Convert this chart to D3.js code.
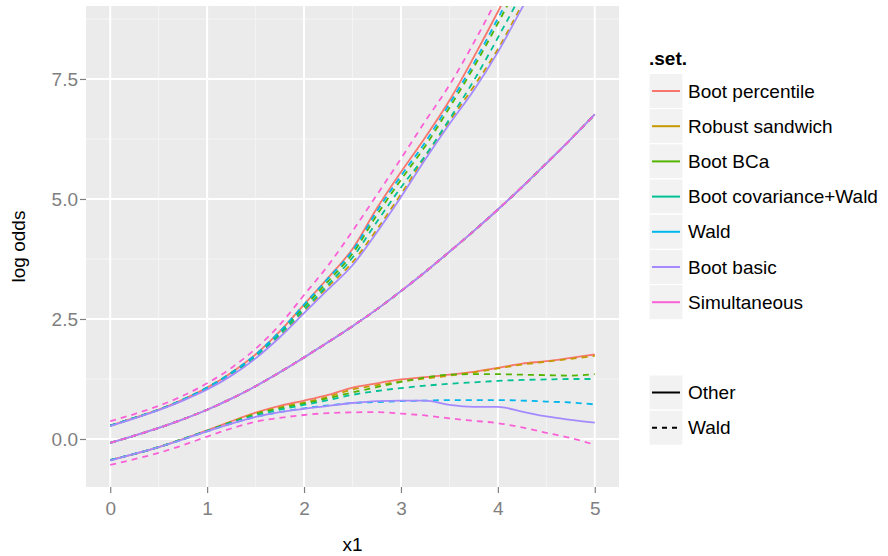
<!DOCTYPE html>
<html>
<head>
<meta charset="utf-8">
<script src="https://cdn.jsdelivr.net/npm/d3@7"></script>
<style>
  body { margin: 0; background: #fff; }
  svg { display: block; font-family: "Liberation Sans", Arial, Helvetica, sans-serif; }
</style>
</head>
<body>
<svg id="chart" width="888" height="556"></svg>
<script>
// x1 grid shared by every line
const xs = [0, 0.25, 0.5, 0.75, 1, 1.25, 1.5, 1.75, 2, 2.25, 2.5,
  2.75, 3, 3.25, 3.5, 3.75, 4, 4.25, 4.5, 4.75, 5];

const setNames = ['Boot percentile', 'Robust sandwich', 'Boot BCa',
  'Boot covariance+Wald', 'Wald', 'Boot basic', 'Simultaneous'];
const setTypes = ['Other', 'Wald', 'Wald', 'Wald', 'Wald', 'Other', 'Wald'];
const typeNames = ['Other', 'Wald'];

// point estimate (same for every set)
const fitValues = [-0.08, 0.07, 0.23, 0.41, 0.61, 0.84, 1.10, 1.39, 1.70, 2.02, 2.35,
  2.70, 3.08, 3.48, 3.90, 4.33, 4.78, 5.25, 5.74, 6.24, 6.76];

// upper limits
const upperPercentile = [0.28, 0.44, 0.61, 0.82, 1.07, 1.38, 1.76, 2.24, 2.80, 3.36, 3.96,
  4.80, 5.56, 6.28, 7.05, 7.95, 8.90, 9.9, 10.9, 11.9, 13.0];
const upperSandwich = [0.28, 0.44, 0.61, 0.81, 1.05, 1.34, 1.70, 2.15, 2.66, 3.18, 3.68,
  4.36, 5.10, 5.88, 6.62, 7.34, 8.12, 9.05, 10.0, 11.0, 12.0];
const upperBCa = [0.28, 0.44, 0.61, 0.82, 1.07, 1.38, 1.74, 2.21, 2.75, 3.29, 3.86,
  4.66, 5.40, 6.10, 6.90, 7.74, 8.66, 9.62, 10.6, 11.6, 12.7];
const upperBootCov = [0.28, 0.44, 0.61, 0.81, 1.06, 1.36, 1.72, 2.18, 2.70, 3.22, 3.78,
  4.52, 5.24, 5.90, 6.66, 7.46, 8.36, 9.3, 10.3, 11.3, 12.3];
const upperWald = [0.28, 0.44, 0.61, 0.82, 1.07, 1.38, 1.76, 2.24, 2.80, 3.35, 3.92,
  4.74, 5.48, 6.18, 6.98, 7.82, 8.76, 9.72, 10.7, 11.7, 12.8];
const upperBasic = [0.27, 0.43, 0.60, 0.80, 1.03, 1.32, 1.68, 2.12, 2.62, 3.12, 3.62,
  4.30, 5.04, 5.82, 6.56, 7.26, 8.06, 8.98, 9.9, 10.9, 11.9];
const upperSimul = [0.37, 0.52, 0.69, 0.90, 1.16, 1.48, 1.88, 2.38, 3.00, 3.62, 4.33,
  5.08, 5.84, 6.62, 7.37, 8.25, 9.2, 10.2, 11.2, 12.3, 13.4];

// lower limits
const lowerPercentile = [-0.44, -0.31, -0.17, 0.00, 0.18, 0.37, 0.55, 0.69, 0.80, 0.92, 1.07,
  1.16, 1.24, 1.29, 1.34, 1.40, 1.48, 1.57, 1.62, 1.69, 1.76];
const lowerSandwich = [-0.44, -0.31, -0.17, 0.00, 0.17, 0.36, 0.53, 0.66, 0.76, 0.88, 1.03,
  1.12, 1.20, 1.26, 1.32, 1.39, 1.47, 1.55, 1.61, 1.67, 1.73];
const lowerBCa = [-0.44, -0.31, -0.17, 0.00, 0.17, 0.35, 0.52, 0.64, 0.74, 0.85, 0.97,
  1.08, 1.19, 1.28, 1.34, 1.35, 1.35, 1.34, 1.33, 1.32, 1.35];
const lowerBootCov = [-0.44, -0.31, -0.17, 0.00, 0.17, 0.34, 0.49, 0.61, 0.71, 0.81, 0.92,
  1.00, 1.06, 1.11, 1.15, 1.18, 1.21, 1.23, 1.24, 1.25, 1.25];
const lowerWald = [-0.44, -0.31, -0.17, -0.01, 0.16, 0.32, 0.46, 0.56, 0.64, 0.70, 0.75,
  0.77, 0.79, 0.80, 0.81, 0.81, 0.81, 0.80, 0.78, 0.76, 0.72];
const lowerBasic = [-0.45, -0.31, -0.17, -0.01, 0.16, 0.32, 0.46, 0.56, 0.63, 0.69, 0.75,
  0.79, 0.80, 0.80, 0.71, 0.67, 0.67, 0.57, 0.47, 0.40, 0.34];
const lowerSimul = [-0.54, -0.42, -0.29, -0.13, 0.05, 0.22, 0.36, 0.44, 0.50, 0.54, 0.555,
  0.56, 0.53, 0.49, 0.43, 0.38, 0.33, 0.24, 0.13, 0.02, -0.12];

const xTicks = [0, 1, 2, 3, 4, 5];
const yTicks = [0, 2.5, 5, 7.5];
const xMinor = [0.5, 1.5, 2.5, 3.5, 4.5];
const yMinor = [1.25, 3.75, 6.25, 8.75];

const uppers = [upperPercentile, upperSandwich, upperBCa, upperBootCov, upperWald, upperBasic, upperSimul];
const lowers = [lowerPercentile, lowerSandwich, lowerBCa, lowerBootCov, lowerWald, lowerBasic, lowerSimul];

const colours = ['#F8766D', '#C49A00', '#53B400', '#00C094', '#00B6EB', '#A58AFF', '#FB61D7'];
const dashes = { Other: null, Wald: '6,5' };

const svg = d3.select('#chart');
const panel = { left: 86, right: 619, top: 6, bottom: 487 };

const x = d3.scaleLinear().domain([-0.25, 5.25]).range([panel.left, panel.right]);
const y = d3.scaleLinear().domain([-1.0, 9.02]).range([panel.bottom, panel.top]);
const colour = d3.scaleOrdinal().domain(setNames).range(colours);

svg.append('rect')
  .attr('x', panel.left)
  .attr('y', panel.top)
  .attr('width', panel.right - panel.left)
  .attr('height', panel.bottom - panel.top)
  .attr('fill', '#EBEBEB');

svg.append('clipPath')
  .attr('id', 'panel-clip')
  .append('rect')
  .attr('x', panel.left)
  .attr('y', panel.top)
  .attr('width', panel.right - panel.left)
  .attr('height', panel.bottom - panel.top);

const grid = svg.append('g');

grid.selectAll('.minor-x')
  .data(xMinor)
  .join('line')
  .attr('x1', d => x(d)).attr('x2', d => x(d))
  .attr('y1', panel.top).attr('y2', panel.bottom)
  .attr('stroke', '#F4F4F4').attr('stroke-width', 1);

grid.selectAll('.minor-y')
  .data(yMinor)
  .join('line')
  .attr('x1', panel.left).attr('x2', panel.right)
  .attr('y1', d => y(d)).attr('y2', d => y(d))
  .attr('stroke', '#F4F4F4').attr('stroke-width', 1);

grid.selectAll('.major-x')
  .data(xTicks)
  .join('line')
  .attr('x1', d => x(d)).attr('x2', d => x(d))
  .attr('y1', panel.top).attr('y2', panel.bottom)
  .attr('stroke', '#fff').attr('stroke-width', 2);

grid.selectAll('.major-y')
  .data(yTicks)
  .join('line')
  .attr('x1', panel.left).attr('x2', panel.right)
  .attr('y1', d => y(d)).attr('y2', d => y(d))
  .attr('stroke', '#fff').attr('stroke-width', 2);

// one line per set and per part (lower, fit, upper), drawn set by set
const lines = [];
setNames.forEach((name, i) => {
  [lowers[i], fitValues, uppers[i]].forEach(vals => {
    lines.push({ set: name, type: setTypes[i], points: xs.map((v, j) => [v, vals[j]]) });
  });
});

const line = d3.line()
  .x(d => x(d[0]))
  .y(d => y(d[1]))
  .curve(d3.curveMonotoneX);

svg.append('g')
  .attr('clip-path', 'url(#panel-clip)')
  .selectAll('path')
  .data(lines)
  .join('path')
  .attr('d', d => line(d.points))
  .attr('fill', 'none')
  .attr('stroke', d => colour(d.set))
  .attr('stroke-width', 1.8)
  .attr('stroke-dasharray', d => dashes[d.type]);

// axes
svg.append('g')
  .attr('transform', `translate(0, ${panel.bottom})`)
  .call(d3.axisBottom(x).tickValues(xTicks).tickFormat(d3.format('d')).tickSize(6).tickPadding(9))
  .call(g => g.select('.domain').remove())
  .call(g => g.selectAll('.tick line').attr('stroke', '#7F7F7F').attr('stroke-width', 1.2))
  .call(g => g.selectAll('.tick text')
    .attr('fill', '#7F7F7F')
    .style('font-size', '19px')
    .style('font-family', '"Liberation Sans", Arial, Helvetica, sans-serif'));

svg.append('g')
  .attr('transform', `translate(${panel.left}, 0)`)
  .call(d3.axisLeft(y).tickValues(yTicks).tickFormat(d3.format('.1f')).tickSize(6).tickPadding(2))
  .call(g => g.select('.domain').remove())
  .call(g => g.selectAll('.tick line').attr('stroke', '#7F7F7F').attr('stroke-width', 1.2))
  .call(g => g.selectAll('.tick text')
    .attr('fill', '#7F7F7F')
    .style('font-size', '19px')
    .style('font-family', '"Liberation Sans", Arial, Helvetica, sans-serif'));

svg.append('text')
  .attr('x', (panel.left + panel.right) / 2)
  .attr('y', 551)
  .attr('text-anchor', 'middle')
  .style('font-size', '19px')
  .text('x1');

svg.append('text')
  .attr('transform', `translate(25, ${(panel.top + panel.bottom) / 2}) rotate(-90)`)
  .attr('text-anchor', 'middle')
  .style('font-size', '19px')
  .text('log odds');

// legends
const keyX = 649, keyW = 34, pitch = 35.2;

svg.append('text')
  .attr('x', keyX)
  .attr('y', 65)
  .style('font-size', '19px')
  .style('font-weight', 'bold')
  .text('.set.');

const colourKeys = svg.append('g')
  .selectAll('g')
  .data(setNames)
  .join('g')
  .attr('transform', (d, i) => `translate(${keyX}, ${91 + i * pitch})`);

colourKeys.append('rect')
  .attr('x', 0).attr('y', -pitch / 2)
  .attr('width', keyW).attr('height', pitch)
  .attr('fill', '#F2F2F2').attr('stroke', '#fff').attr('stroke-width', 1.2);

colourKeys.append('line')
  .attr('x1', 3).attr('x2', keyW - 3)
  .attr('stroke', d => colour(d)).attr('stroke-width', 2);

colourKeys.append('text')
  .attr('x', keyW + 5)
  .attr('dy', '0.35em')
  .style('font-size', '19px')
  .text(d => d);

const typeKeys = svg.append('g')
  .selectAll('g')
  .data(typeNames)
  .join('g')
  .attr('transform', (d, i) => `translate(${keyX}, ${392.5 + i * pitch})`);

typeKeys.append('rect')
  .attr('x', 0).attr('y', -pitch / 2)
  .attr('width', keyW).attr('height', pitch)
  .attr('fill', '#F2F2F2').attr('stroke', '#fff').attr('stroke-width', 1.2);

typeKeys.append('line')
  .attr('x1', 3).attr('x2', keyW - 3)
  .attr('stroke', '#000').attr('stroke-width', 2)
  .attr('stroke-dasharray', d => (d === 'Wald' ? '5,5' : null));

typeKeys.append('text')
  .attr('x', keyW + 5)
  .attr('dy', '0.35em')
  .style('font-size', '19px')
  .text(d => d);
</script>
</body>
</html>
